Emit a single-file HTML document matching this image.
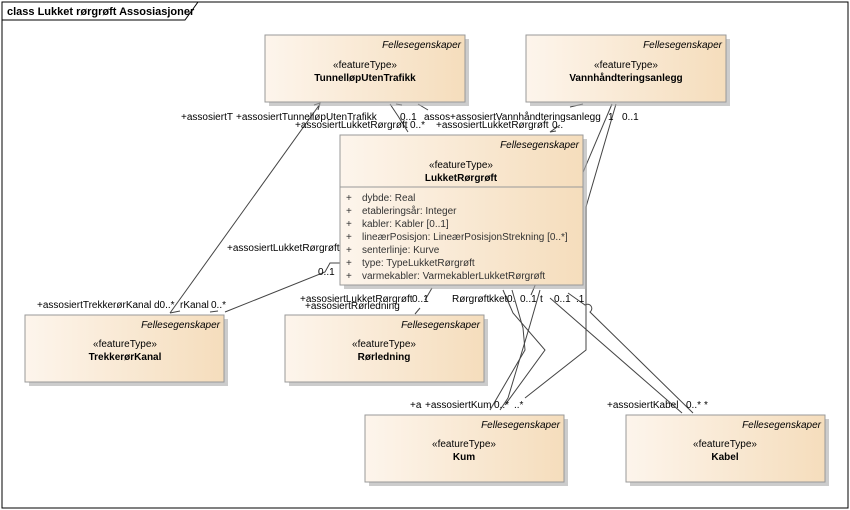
<!DOCTYPE html>
<html><head><meta charset="utf-8"><style>
html,body{margin:0;padding:0;background:#fff}
svg{display:block}
text{font-family:"Liberation Sans",sans-serif;font-size:10px;fill:#000}
.it{font-style:italic}
.b{font-weight:bold}
.at{fill:#333}
</style></head><body>
<svg width="850" height="510" viewBox="0 0 850 510" xmlns="http://www.w3.org/2000/svg">
<defs>
<linearGradient id="g" x1="0" x2="1" y1="0" y2="0">
<stop offset="0" stop-color="#fdf5ec"/><stop offset="1" stop-color="#f5ddbc"/>
</linearGradient>
</defs>
<rect x="2" y="2" width="846" height="506" fill="#fff" stroke="#000" stroke-width="1"/>
<path d="M2 20 H185 L198 2" fill="none" stroke="#000"/>
<text x="7" y="15" class="b" style="font-size:11px">class Lukket rørgrøft Assosiasjoner</text>

<g fill="none" stroke="#444" stroke-width="1">
<!-- Tunnel -> Lukket lines -->
<path d="M320 104 L170 313"/>
<path d="M390 104 L398 116 L408 132"/>
<path d="M402 105 L396 104"/>
<path d="M418 104 L428 110"/>
<path d="M314 105 L320 103 L318 110"/>
<!-- Vann -->
<path d="M612 104 L531 295"/>
<path d="M616 104 L586 207 L586 350 L525 398"/>
<path d="M583 104 L570 107"/>
<path d="M560 125 L550 132 L556 131"/>
<!-- Trekker -->
<path d="M340 263 L330 263 L325 272 L225 312"/>
<path d="M218 311 L210 312"/>
<path d="M180 311 L170 313"/>
<!-- Rørledning -->
<path d="M432 288 L425 300"/>
<path d="M420 308 L415 314"/>
<!-- Kum -->
<path d="M503 290 L513 313 L545 350 L505 405"/>
<path d="M512 290 L523 328 L525 350 L490 410"/>
<path d="M540 290 L530 325 L508 398 L500 410"/>
<!-- Kabel -->
<path d="M550 298 L682 413"/>
<path d="M568 293 L585 305 A4 4 0 0 1 590 312 L693 413"/>
</g>

<!-- boxes -->
<g>
<rect x="269" y="39" width="200" height="67" fill="#aaa" opacity=".6"/>
<rect x="265" y="35" width="200" height="67" fill="url(#g)" stroke="#999"/>
<text x="461" y="48" class="it" text-anchor="end">Fellesegenskaper</text>
<text x="365" y="68" text-anchor="middle">«featureType»</text>
<text x="365" y="81" text-anchor="middle" class="b">TunnelløpUtenTrafikk</text>

<rect x="530" y="39" width="200" height="67" fill="#aaa" opacity=".6"/>
<rect x="526" y="35" width="200" height="67" fill="url(#g)" stroke="#999"/>
<text x="722" y="48" class="it" text-anchor="end">Fellesegenskaper</text>
<text x="626" y="68" text-anchor="middle">«featureType»</text>
<text x="626" y="81" text-anchor="middle" class="b">Vannhåndteringsanlegg</text>

<rect x="344" y="139" width="243" height="150" fill="#aaa" opacity=".6"/>
<rect x="340" y="135" width="243" height="150" fill="url(#g)" stroke="#999"/>
<line x1="340" y1="187" x2="583" y2="187" stroke="#999"/>
<text x="579" y="148" class="it" text-anchor="end">Fellesegenskaper</text>
<text x="461" y="168" text-anchor="middle">«featureType»</text>
<text x="461" y="181" text-anchor="middle" class="b">LukketRørgrøft</text>
<g class="at">
<text x="346" y="201" class="at">+</text><text x="362" y="201" class="at">dybde: Real</text>
<text x="346" y="214" class="at">+</text><text x="362" y="214" class="at">etableringsår: Integer</text>
<text x="346" y="227" class="at">+</text><text x="362" y="227" class="at">kabler: Kabler [0..1]</text>
<text x="346" y="240" class="at">+</text><text x="362" y="240" class="at">lineærPosisjon: LineærPosisjonStrekning [0..*]</text>
<text x="346" y="253" class="at">+</text><text x="362" y="253" class="at">senterlinje: Kurve</text>
<text x="346" y="266" class="at">+</text><text x="362" y="266" class="at">type: TypeLukketRørgrøft</text>
<text x="346" y="279" class="at">+</text><text x="362" y="279" class="at">varmekabler: VarmekablerLukketRørgrøft</text>
</g>

<rect x="29" y="319" width="199" height="67" fill="#aaa" opacity=".6"/>
<rect x="25" y="315" width="199" height="67" fill="url(#g)" stroke="#999"/>
<text x="220" y="328" class="it" text-anchor="end">Fellesegenskaper</text>
<text x="125" y="347" text-anchor="middle">«featureType»</text>
<text x="125" y="360" text-anchor="middle" class="b">TrekkerørKanal</text>

<rect x="289" y="319" width="199" height="67" fill="#aaa" opacity=".6"/>
<rect x="285" y="315" width="199" height="67" fill="url(#g)" stroke="#999"/>
<text x="480" y="328" class="it" text-anchor="end">Fellesegenskaper</text>
<text x="384" y="347" text-anchor="middle">«featureType»</text>
<text x="384" y="360" text-anchor="middle" class="b">Rørledning</text>

<rect x="369" y="419" width="199" height="67" fill="#aaa" opacity=".6"/>
<rect x="365" y="415" width="199" height="67" fill="url(#g)" stroke="#999"/>
<text x="560" y="428" class="it" text-anchor="end">Fellesegenskaper</text>
<text x="464" y="447" text-anchor="middle">«featureType»</text>
<text x="464" y="460" text-anchor="middle" class="b">Kum</text>

<rect x="630" y="419" width="199" height="67" fill="#aaa" opacity=".6"/>
<rect x="626" y="415" width="199" height="67" fill="url(#g)" stroke="#999"/>
<text x="821" y="428" class="it" text-anchor="end">Fellesegenskaper</text>
<text x="725" y="447" text-anchor="middle">«featureType»</text>
<text x="725" y="460" text-anchor="middle" class="b">Kabel</text>
</g>

<!-- labels -->
<text x="181" y="120">+assosiertT</text>
<text x="236" y="120">+assosiertTunnelløpUtenTrafikk</text>
<text x="400" y="120">0..1</text>
<text x="424" y="120">assos</text>
<text x="450" y="120">+assosiertVannhåndteringsanlegg</text>
<text x="608" y="120">1</text>
<text x="622" y="120">0..1</text>
<text x="295" y="128">+assosiertLukketRørgrøft</text>
<text x="410" y="128">0..*</text>
<text x="436" y="128">+assosiertLukketRørgrøft</text>
<text x="552" y="128">0..</text>
<text x="227" y="251">+assosiertLukketRørgrøft</text>
<text x="318" y="275">0..1</text>
<text x="37" y="308">+assosiertTrekkerørKanal</text>
<text x="154" y="308">d0..*</text>
<text x="180" y="308">rKanal</text>
<text x="211" y="308">0..*</text>
<text x="300" y="302">+assosiertLukketRørgrøft</text>
<text x="305" y="309">+assosiertRørledning</text>
<text x="412" y="302">0..1</text>
<text x="452" y="302">Rørgrøft</text>
<text x="489" y="302">kket</text>
<text x="507" y="302">0.</text>
<text x="520" y="302">0..1</text>
<text x="540" y="302">t</text>
<text x="554" y="302">0..1</text>
<text x="576" y="302">.1</text>
<text x="410" y="408">+a</text>
<text x="425" y="408">+assosiertKum</text>
<text x="494" y="408">0..*</text>
<text x="514" y="408">..*</text>
<text x="607" y="408">+assosiertKabel</text>
<text x="686" y="408">0..*</text>
<text x="704" y="408">*</text>
</svg>
</body></html>
